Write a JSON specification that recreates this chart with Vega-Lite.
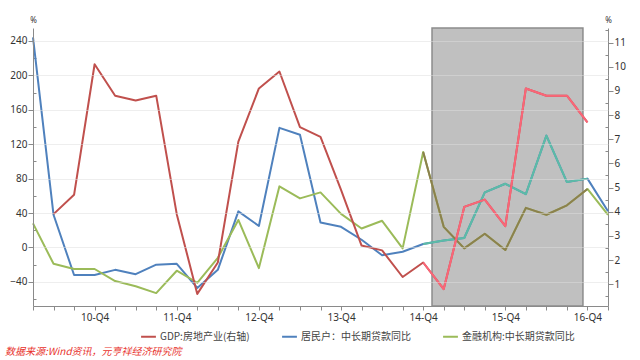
{
  "$schema": "https://vega.github.io/schema/vega-lite/v6.json",
  "width": 575,
  "height": 278,
  "autosize": "none",
  "padding": {"left": 33, "top": 28, "right": 32, "bottom": 54},
  "background": "white",
  "config": {
    "view": {"stroke": null},
    "font": "Noto Sans",
    "axis": {"domainColor": "#8a8a8a", "tickColor": "#8a8a8a", "labelColor": "#333333", "labelFontSize": 10, "labelFont": "Noto Sans", "titleColor": "#333333"}
  },
  "title": {
    "text": "数据来源:Wind资讯，元亨祥经济研究院",
    "orient": "bottom",
    "anchor": "start",
    "frame": "group",
    "color": "#e8322c",
    "font": "Noto Sans CJK SC",
    "fontSize": 10,
    "fontStyle": "italic",
    "fontWeight": "normal",
    "offset": 5,
    "dx": -28
  },
  "datasets": {
    "shade": [{"t": 19.43, "t2": 26.78}],
    "series": [
      {"t": 0, "s": "居民户：中长期贷款同比", "v": 244},
      {"t": 1, "s": "居民户：中长期贷款同比", "v": 38},
      {"t": 2, "s": "居民户：中长期贷款同比", "v": -32},
      {"t": 3, "s": "居民户：中长期贷款同比", "v": -32},
      {"t": 4, "s": "居民户：中长期贷款同比", "v": -26},
      {"t": 5, "s": "居民户：中长期贷款同比", "v": -31},
      {"t": 6, "s": "居民户：中长期贷款同比", "v": -20},
      {"t": 7, "s": "居民户：中长期贷款同比", "v": -19},
      {"t": 8, "s": "居民户：中长期贷款同比", "v": -47},
      {"t": 9, "s": "居民户：中长期贷款同比", "v": -26},
      {"t": 10, "s": "居民户：中长期贷款同比", "v": 42},
      {"t": 11, "s": "居民户：中长期贷款同比", "v": 25},
      {"t": 12, "s": "居民户：中长期贷款同比", "v": 139},
      {"t": 13, "s": "居民户：中长期贷款同比", "v": 131},
      {"t": 14, "s": "居民户：中长期贷款同比", "v": 29},
      {"t": 15, "s": "居民户：中长期贷款同比", "v": 24},
      {"t": 16, "s": "居民户：中长期贷款同比", "v": 9},
      {"t": 17, "s": "居民户：中长期贷款同比", "v": -9},
      {"t": 18, "s": "居民户：中长期贷款同比", "v": -5},
      {"t": 19, "s": "居民户：中长期贷款同比", "v": 4},
      {"t": 20, "s": "居民户：中长期贷款同比", "v": 8},
      {"t": 21, "s": "居民户：中长期贷款同比", "v": 11},
      {"t": 22, "s": "居民户：中长期贷款同比", "v": 64},
      {"t": 23, "s": "居民户：中长期贷款同比", "v": 74},
      {"t": 24, "s": "居民户：中长期贷款同比", "v": 62},
      {"t": 25, "s": "居民户：中长期贷款同比", "v": 130},
      {"t": 26, "s": "居民户：中长期贷款同比", "v": 76},
      {"t": 27, "s": "居民户：中长期贷款同比", "v": 80},
      {"t": 28, "s": "居民户：中长期贷款同比", "v": 42},
      {"t": 0, "s": "金融机构:中长期贷款同比", "v": 28},
      {"t": 1, "s": "金融机构:中长期贷款同比", "v": -19},
      {"t": 2, "s": "金融机构:中长期贷款同比", "v": -25},
      {"t": 3, "s": "金融机构:中长期贷款同比", "v": -25},
      {"t": 4, "s": "金融机构:中长期贷款同比", "v": -39},
      {"t": 5, "s": "金融机构:中长期贷款同比", "v": -45},
      {"t": 6, "s": "金融机构:中长期贷款同比", "v": -53},
      {"t": 7, "s": "金融机构:中长期贷款同比", "v": -27},
      {"t": 8, "s": "金融机构:中长期贷款同比", "v": -41},
      {"t": 9, "s": "金融机构:中长期贷款同比", "v": -12},
      {"t": 10, "s": "金融机构:中长期贷款同比", "v": 32},
      {"t": 11, "s": "金融机构:中长期贷款同比", "v": -24},
      {"t": 12, "s": "金融机构:中长期贷款同比", "v": 71},
      {"t": 13, "s": "金融机构:中长期贷款同比", "v": 57},
      {"t": 14, "s": "金融机构:中长期贷款同比", "v": 64},
      {"t": 15, "s": "金融机构:中长期贷款同比", "v": 39},
      {"t": 16, "s": "金融机构:中长期贷款同比", "v": 22},
      {"t": 17, "s": "金融机构:中长期贷款同比", "v": 31},
      {"t": 18, "s": "金融机构:中长期贷款同比", "v": -1},
      {"t": 19, "s": "金融机构:中长期贷款同比", "v": 111},
      {"t": 20, "s": "金融机构:中长期贷款同比", "v": 24},
      {"t": 21, "s": "金融机构:中长期贷款同比", "v": -1},
      {"t": 22, "s": "金融机构:中长期贷款同比", "v": 16},
      {"t": 23, "s": "金融机构:中长期贷款同比", "v": -3},
      {"t": 24, "s": "金融机构:中长期贷款同比", "v": 46},
      {"t": 25, "s": "金融机构:中长期贷款同比", "v": 38},
      {"t": 26, "s": "金融机构:中长期贷款同比", "v": 49},
      {"t": 27, "s": "金融机构:中长期贷款同比", "v": 68},
      {"t": 28, "s": "金融机构:中长期贷款同比", "v": 38},
      {"t": 1, "s": "GDP:房地产业(右轴)", "v": 3.9},
      {"t": 2, "s": "GDP:房地产业(右轴)", "v": 4.7},
      {"t": 3, "s": "GDP:房地产业(右轴)", "v": 10.1},
      {"t": 4, "s": "GDP:房地产业(右轴)", "v": 8.8},
      {"t": 5, "s": "GDP:房地产业(右轴)", "v": 8.6},
      {"t": 6, "s": "GDP:房地产业(右轴)", "v": 8.8},
      {"t": 7, "s": "GDP:房地产业(右轴)", "v": 3.9},
      {"t": 8, "s": "GDP:房地产业(右轴)", "v": 0.6},
      {"t": 9, "s": "GDP:房地产业(右轴)", "v": 1.9},
      {"t": 10, "s": "GDP:房地产业(右轴)", "v": 6.9},
      {"t": 11, "s": "GDP:房地产业(右轴)", "v": 9.1},
      {"t": 12, "s": "GDP:房地产业(右轴)", "v": 9.8},
      {"t": 13, "s": "GDP:房地产业(右轴)", "v": 7.5},
      {"t": 14, "s": "GDP:房地产业(右轴)", "v": 7.1},
      {"t": 15, "s": "GDP:房地产业(右轴)", "v": 4.9},
      {"t": 16, "s": "GDP:房地产业(右轴)", "v": 2.6},
      {"t": 17, "s": "GDP:房地产业(右轴)", "v": 2.4},
      {"t": 18, "s": "GDP:房地产业(右轴)", "v": 1.3},
      {"t": 19, "s": "GDP:房地产业(右轴)", "v": 1.9},
      {"t": 20, "s": "GDP:房地产业(右轴)", "v": 0.8},
      {"t": 21, "s": "GDP:房地产业(右轴)", "v": 4.2},
      {"t": 22, "s": "GDP:房地产业(右轴)", "v": 4.5},
      {"t": 23, "s": "GDP:房地产业(右轴)", "v": 3.4},
      {"t": 24, "s": "GDP:房地产业(右轴)", "v": 9.1},
      {"t": 25, "s": "GDP:房地产业(右轴)", "v": 8.8},
      {"t": 26, "s": "GDP:房地产业(右轴)", "v": 8.8},
      {"t": 27, "s": "GDP:房地产业(右轴)", "v": 7.7}
    ]
  },
  "encoding": {
    "x": {
      "field": "t", "type": "quantitative",
      "scale": {"domain": [0, 28], "nice": false, "zero": false},
      "axis": {
        "title": null,
        "values": [0,1,2,3,4,5,6,7,8,9,10,11,12,13,14,15,16,17,18,19,20,21,22,23,24,25,26,27,28],
        "labelExpr": "datum.value % 4 == 3 ? (10 + floor(datum.value / 4)) + '-Q4' : ''",
        "labelOverlap": false,
        "tickSize": 4,
        "labelPadding": 2,
        "grid": false
      }
    }
  },
  "layer": [
    {
      "data": {"name": "shade"},
      "mark": {"type": "rect", "fill": "#c0c0c0", "stroke": "#8c8c8c", "strokeWidth": 1.5},
      "encoding": {
        "x2": {"field": "t2"},
        "y": {"value": 0},
        "y2": {"value": "height"}
      }
    },
    {
      "data": {"name": "series"},
      "resolve": {"axis": {"y": "independent"}},
      "layer": [
        {
          "transform": [{"filter": {"field": "s", "oneOf": ["居民户：中长期贷款同比", "金融机构:中长期贷款同比"]}}],
          "mark": {"type": "line", "strokeWidth": 2, "strokeJoin": "round"},
          "encoding": {
            "y": {
              "field": "v", "type": "quantitative",
              "scale": {"domain": [-68, 255], "nice": false, "zero": false},
              "axis": {
                "orient": "left",
                "title": "%",
                "titleAngle": 0,
                "titleX": 0,
                "titleY": -4,
                "titleAlign": "center",
                "titleBaseline": "bottom",
                "titleFontSize": 8,
                "titleFontWeight": "normal",
                "values": [-40,0,40,80,120,160,200,240],
                "labelPadding": 1,
                "tickSize": 5,
                "grid": true,
                "gridColor": "#dddddd",
                "gridOpacity": 0.5,
                "zindex": 1
              }
            },
            "color": {
              "field": "s", "type": "nominal",
              "scale": {
                "domain": ["GDP:房地产业(右轴)", "居民户：中长期贷款同比", "金融机构:中长期贷款同比"],
                "range": ["#c0504d", "#4f81bd", "#9bbb59"]
              },
              "legend": {
                "orient": "none",
                "legendX": 107,
                "legendY": 300,
                "direction": "horizontal",
                "title": null,
                "symbolType": "stroke",
                "symbolStrokeWidth": 2,
                "symbolSize": 220,
                "labelFont": "Noto Sans CJK SC",
                "labelFontSize": 10,
                "labelColor": "#444444",
                "columnPadding": 28,
                "labelOffset": 3
              }
            }
          }
        },
        {
          "transform": [{"filter": {"field": "s", "equal": "居民户：中长期贷款同比"}}, {"filter": "datum.t >= 19 && datum.t <= 27"}],
          "mark": {"type": "line", "strokeWidth": 2, "strokeJoin": "round", "color": "#5cbca6"},
          "encoding": {
            "y": {
              "field": "v", "type": "quantitative",
              "scale": {"domain": [-68, 255], "nice": false, "zero": false},
              "axis": {
                "orient": "left",
                "title": null,
                "values": [-60,-20,20,60,100,140,180,220],
                "labels": false,
                "domain": false,
                "grid": false,
                "tickSize": -3
              }
            }
          }
        },
        {
          "transform": [{"filter": {"field": "s", "equal": "金融机构:中长期贷款同比"}}, {"filter": "datum.t >= 19 && datum.t <= 27"}],
          "mark": {"type": "line", "strokeWidth": 2, "strokeJoin": "round", "color": "#8c804e"},
          "encoding": {
            "y": {"field": "v", "type": "quantitative", "scale": {"domain": [-68, 255], "nice": false, "zero": false}, "axis": null}
          }
        }
      ]
    },
    {
      "data": {"name": "series"},
      "resolve": {"axis": {"y": "independent"}},
      "layer": [
        {
          "transform": [{"filter": {"field": "s", "equal": "GDP:房地产业(右轴)"}}],
          "mark": {"type": "line", "strokeWidth": 2, "strokeJoin": "round"},
          "encoding": {
            "y": {
              "field": "v", "type": "quantitative",
              "scale": {"domain": [0.1, 11.6], "nice": false, "zero": false},
              "axis": {
                "orient": "right",
                "title": "%",
                "titleAngle": 0,
                "titleX": 0,
                "titleY": -4,
                "titleAlign": "center",
                "titleBaseline": "bottom",
                "titleFontSize": 8,
                "titleFontWeight": "normal",
                "values": [1,2,3,4,5,6,7,8,9,10,11],
                "labelPadding": 1,
                "tickSize": 5,
                "grid": false
              }
            },
            "color": {"field": "s", "type": "nominal"}
          }
        },
        {
          "transform": [{"filter": {"field": "s", "equal": "GDP:房地产业(右轴)"}}, {"filter": "datum.t >= 19 && datum.t <= 27"}],
          "mark": {"type": "line", "strokeWidth": 2, "strokeJoin": "round", "color": "#fa6678"},
          "encoding": {
            "y": {
              "field": "v", "type": "quantitative",
              "scale": {"domain": [0.1, 11.6], "nice": false, "zero": false},
              "axis": {
                "orient": "right",
                "title": null,
                "values": [0.5,1.5,2.5,3.5,4.5,5.5,6.5,7.5,8.5,9.5,10.5,11.5],
                "labels": false,
                "domain": false,
                "grid": false,
                "tickSize": -3
              }
            }
          }
        }
      ]
    }
  ],
  "resolve": {"scale": {"y": "independent"}}
}
